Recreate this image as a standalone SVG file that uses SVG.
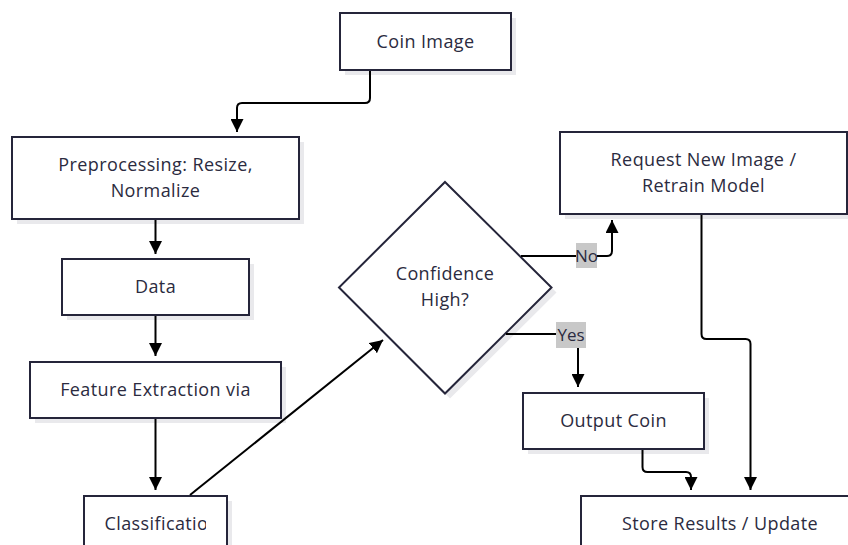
<svg xmlns="http://www.w3.org/2000/svg" width="848" height="545" viewBox="0 0 848 545">
  <defs>
    <marker id="arrow" viewBox="0 0 12 12" refX="12" refY="6" markerWidth="13" markerHeight="13" markerUnits="userSpaceOnUse" orient="auto">
      <path d="M0,0 L12,6 L0,12 z" fill="#000"/>
    </marker>
    <clipPath id="clipClass">
      <rect x="84" y="496" width="122" height="49"/>
    </clipPath>
  </defs>
  <style>
    .shadow { fill: #e9e9ec; }
    .box { fill: #ffffff; stroke: #25253a; stroke-width: 2; }
    .label { font-family: "Open Sans", "Noto Sans", sans-serif; font-size: 18px; letter-spacing: 0.4px; fill: #2b2b40; text-anchor: middle; }
    .edge { fill: none; stroke: #000; stroke-width: 2; }
    .elbg { fill: #c8c8c8; }
    .eltext { font-family: "Open Sans", "Noto Sans", sans-serif; font-size: 17px; fill: #2b2b40; text-anchor: middle; }
  </style>
  <rect width="848" height="545" fill="#ffffff"/>

  <!-- nodes -->
  <g id="coin-image">
    <rect class="shadow" x="345" y="18" width="171" height="57"/>
    <rect class="box" x="340" y="13" width="171" height="57"/>
    <text class="label" x="425.5" y="48">Coin Image</text>
  </g>

  <g id="preprocessing">
    <rect class="shadow" x="17" y="142" width="287" height="82"/>
    <rect class="box" x="12" y="137" width="287" height="82"/>
    <text class="label" x="155.5" y="171">Preprocessing: Resize,</text>
    <text class="label" x="155.5" y="197">Normalize</text>
  </g>

  <g id="data">
    <rect class="shadow" x="67" y="264" width="187" height="56"/>
    <rect class="box" x="62" y="259" width="187" height="56"/>
    <text class="label" x="155.5" y="293">Data</text>
  </g>

  <g id="feature-extraction">
    <rect class="shadow" x="35" y="367" width="251" height="56"/>
    <rect class="box" x="30" y="362" width="251" height="56"/>
    <text class="label" x="155.5" y="396">Feature Extraction via</text>
  </g>

  <g id="classification">
    <rect class="shadow" x="89" y="501" width="143" height="60"/>
    <rect class="box" x="84" y="496" width="143" height="60"/>
    <text class="label" x="104.5" y="530" style="text-anchor:start" clip-path="url(#clipClass)">Classification</text>
  </g>

  <g id="confidence-high">
    <polygon class="shadow" points="450,187 556.5,292.5 450,398.5 344,292.5"/>
    <polygon class="box" points="445,182 551.5,287.5 445,393.5 339,287.5"/>
    <text class="label" x="445" y="280">Confidence</text>
    <text class="label" x="445" y="306">High?</text>
  </g>

  <g id="request-new-image">
    <rect class="shadow" x="565" y="137" width="287" height="82"/>
    <rect class="box" x="560" y="132" width="287" height="82"/>
    <text class="label" x="703.5" y="166">Request New Image /</text>
    <text class="label" x="703.5" y="192">Retrain Model</text>
  </g>

  <g id="output-coin">
    <rect class="shadow" x="528" y="398" width="181" height="56"/>
    <rect class="box" x="523" y="393" width="181" height="56"/>
    <text class="label" x="613.5" y="427">Output Coin</text>
  </g>

  <g id="store-results">
    <rect class="shadow" x="586" y="501" width="278" height="60"/>
    <rect class="box" x="581" y="496" width="278" height="60"/>
    <text class="label" x="720" y="530">Store Results / Update</text>
  </g>

  <!-- connectors -->
  <g id="connectors">
    <path class="edge" d="M370,71 L370,98 Q370,103 365,103 L242,103 Q237,103 237,108 L237,132" marker-end="url(#arrow)"/>
    <path class="edge" d="M155.5,220 L155.5,254" marker-end="url(#arrow)"/>
    <path class="edge" d="M155.5,316 L155.5,356" marker-end="url(#arrow)"/>
    <path class="edge" d="M155.5,419 L155.5,490" marker-end="url(#arrow)"/>
    <path class="edge" d="M190,495 L383,340" marker-end="url(#arrow)"/>
    <path class="edge" d="M521,256 L607,256 Q612,256 612,251 L612,220" marker-end="url(#arrow)"/>
    <path class="edge" d="M506,334 L578,334 L578,387" marker-end="url(#arrow)"/>
    <path class="edge" d="M701.5,215 L701.5,334 Q701.5,339 706.5,339 L745.5,339 Q750.5,339 750.5,344 L750.5,490" marker-end="url(#arrow)"/>
    <path class="edge" d="M642.5,450 L642.5,467 Q642.5,472 647.5,472 L686,472 Q691,472 691,477 L691,490" marker-end="url(#arrow)"/>
    <g id="label-no">
      <rect class="elbg" x="576" y="243" width="21" height="25"/>
      <text class="eltext" x="586.5" y="262">No</text>
    </g>
    <g id="label-yes">
      <rect class="elbg" x="556" y="322" width="30" height="26"/>
      <text class="eltext" x="571" y="341">Yes</text>
    </g>
  </g>
</svg>
